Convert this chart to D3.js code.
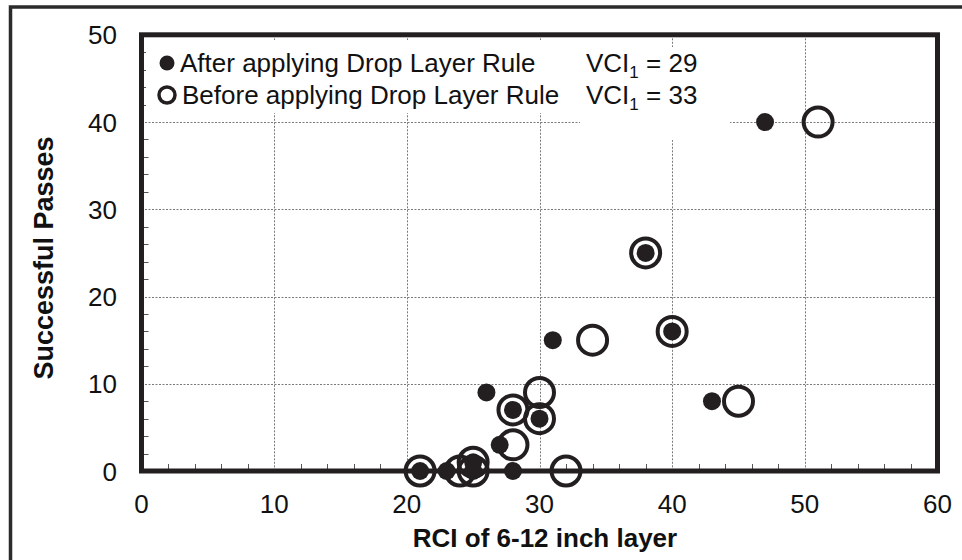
<!DOCTYPE html>
<html>
<head>
<meta charset="utf-8">
<script src="https://cdn.jsdelivr.net/npm/d3@7"></script>
<style>
  html, body { margin: 0; padding: 0; background: #fff; }
  svg { display: block; font-family: "Liberation Sans", Arial, sans-serif; }
</style>
</head>
<body>
<svg id="chart" width="962" height="560"></svg>
<script>
// RCI / passes pairs
var rciAfter     = [47, 38, 40, 31, 43, 26, 28, 30, 27, 28, 21, 23, 25, 25];
var passesAfter  = [40, 25, 16, 15,  8,  9,  7,  6,  3,  0,  0,  0,  1,  0];
var rciBefore    = [51, 38, 40, 34, 45, 30, 28, 30, 28, 32, 21, 24, 25, 25];
var passesBefore = [40, 25, 16, 15,  8,  9,  7,  6,  3,  0,  0,  0,  1,  0];

var xTicks = [0, 10, 20, 30, 40, 50, 60];
var yTicks = [0, 10, 20, 30, 40, 50];
var xMinor = d3.range(2, 60, 2).filter(function(d) { return d % 10 != 0; });
var yMinor = d3.range(2, 50, 2).filter(function(d) { return d % 10 != 0; });

var legendLabels = ["After applying Drop Layer Rule", "Before applying Drop Layer Rule"];
var vciValues = [29, 33];

var ink = "#231f20";
var svg = d3.select("#chart");

// plot box (note: "top" is reserved on window, so use other names)
var pLeft = 141.5, pRight = 937.5, pTop = 34.8, pBottom = 471;
var x = d3.scaleLinear().domain([0, 60]).range([pLeft, pRight]);
var y = d3.scaleLinear().domain([0, 50]).range([pBottom, pTop]);

// outer frame (cut off by the picture edge on right/bottom)
svg.append("path")
  .attr("d", "M10.5,600 L10.5,7 L970,7")
  .attr("fill", "none")
  .attr("stroke", "#2b2b2b")
  .attr("stroke-width", 3.5);

// grid
var grid = svg.append("g").attr("stroke", "#7a7a7a").attr("stroke-width", 1).attr("stroke-dasharray", "2,1.5");
grid.selectAll(".gx").data(xTicks.slice(1, -1)).enter().append("line")
  .attr("x1", function(d) { return Math.round(x(d)) + 0.5; })
  .attr("x2", function(d) { return Math.round(x(d)) + 0.5; })
  .attr("y1", pTop).attr("y2", pBottom);
grid.selectAll(".gy").data(yTicks.slice(1, -1)).enter().append("line")
  .attr("y1", function(d) { return Math.round(y(d)) + 0.5; })
  .attr("y2", function(d) { return Math.round(y(d)) + 0.5; })
  .attr("x1", pLeft).attr("x2", pRight);

// minor ticks, pointing inwards
var ticks = svg.append("g").attr("stroke", "#555").attr("stroke-width", 1);
ticks.selectAll(".mx").data(xMinor).enter().append("line")
  .attr("x1", function(d) { return Math.round(x(d)) + 0.5; })
  .attr("x2", function(d) { return Math.round(x(d)) + 0.5; })
  .attr("y1", pBottom).attr("y2", pBottom - 7);
ticks.selectAll(".my").data(yMinor).enter().append("line")
  .attr("y1", function(d) { return Math.round(y(d)) + 0.5; })
  .attr("y2", function(d) { return Math.round(y(d)) + 0.5; })
  .attr("x1", pLeft).attr("x2", pLeft + 7);

// white boxes behind the legend and the VCI notes
svg.append("rect").attr("x", 146).attr("y", 40).attr("width", 432).attr("height", 73).attr("fill", "#fff");
svg.append("rect").attr("x", 580).attr("y", 47).attr("width", 150).attr("height", 93).attr("fill", "#fff");

// plot border
svg.append("rect")
  .attr("x", pLeft).attr("y", pTop)
  .attr("width", pRight - pLeft).attr("height", pBottom - pTop)
  .attr("fill", "none")
  .attr("stroke", ink)
  .attr("stroke-width", 5);

// points: before (open) first, after (filled) on top
var before = rciBefore.map(function(d, i) { return [d, passesBefore[i]]; });
var after = rciAfter.map(function(d, i) { return [d, passesAfter[i]]; });

svg.append("g").selectAll("circle").data(before).enter().append("circle")
  .attr("cx", function(d) { return x(d[0]); })
  .attr("cy", function(d) { return y(d[1]); })
  .attr("r", 14.5)
  .attr("fill", "none")
  .attr("stroke", ink)
  .attr("stroke-width", 4);

svg.append("g").selectAll("circle").data(after).enter().append("circle")
  .attr("cx", function(d) { return x(d[0]); })
  .attr("cy", function(d) { return y(d[1]); })
  .attr("r", 9)
  .attr("fill", ink);

// tick labels
svg.append("g").selectAll("text").data(xTicks).enter().append("text")
  .attr("x", function(d) { return x(d); })
  .attr("y", 513)
  .attr("text-anchor", "middle")
  .attr("font-size", 26)
  .attr("fill", "#111")
  .text(function(d) { return d; });

svg.append("g").selectAll("text").data(yTicks).enter().append("text")
  .attr("x", 117)
  .attr("y", function(d) { return y(d) + 9.5; })
  .attr("text-anchor", "end")
  .attr("font-size", 26)
  .attr("fill", "#111")
  .text(function(d) { return d; });

// axis titles
svg.append("text")
  .attr("x", 545).attr("y", 547)
  .attr("text-anchor", "middle")
  .attr("font-size", 26)
  .attr("font-weight", "bold")
  .attr("fill", "#111")
  .text("RCI of 6-12 inch layer");

svg.append("text")
  .attr("transform", "translate(53,258) rotate(-90)")
  .attr("text-anchor", "middle")
  .attr("font-size", 27)
  .attr("font-weight", "bold")
  .attr("fill", "#111")
  .text("Successful Passes");

// legend
var legY = [63, 95];
var leg = svg.append("g");
leg.append("circle").attr("cx", 167).attr("cy", legY[0]).attr("r", 7.5).attr("fill", ink);
leg.append("circle").attr("cx", 167).attr("cy", legY[1]).attr("r", 8)
  .attr("fill", "none").attr("stroke", ink).attr("stroke-width", 3.5);

leg.selectAll(".lbl").data(legendLabels).enter().append("text")
  .attr("x", function(d, i) { return i == 0 ? 180 : 182; })
  .attr("y", function(d, i) { return legY[i] + 9; })
  .attr("font-size", 26)
  .attr("fill", "#111")
  .text(function(d) { return d; });

var vci = leg.selectAll(".vci").data(vciValues).enter().append("text")
  .attr("x", 586)
  .attr("y", function(d, i) { return legY[i] + 9; })
  .attr("font-size", 26)
  .attr("fill", "#111");
vci.append("tspan").text("VCI");
vci.append("tspan").attr("font-size", 17).attr("dy", 6).text("1");
vci.append("tspan").attr("dy", -6).text(function(d) { return " = " + d; });
</script>
</body>
</html>
